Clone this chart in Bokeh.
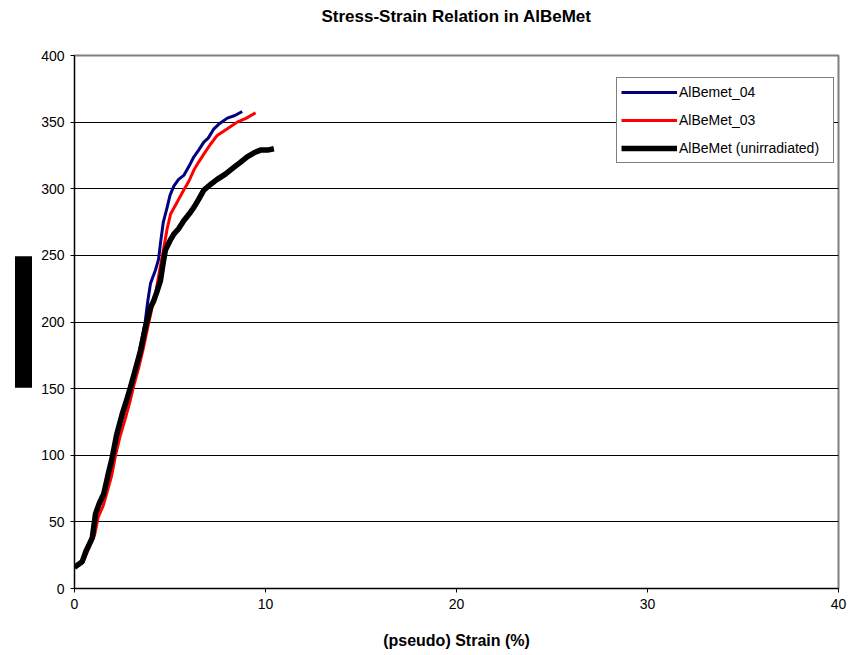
from bokeh.plotting import figure
from bokeh.models import Range1d, FixedTicker, Legend, LegendItem, Title
from bokeh.embed import file_html
from bokeh.resources import INLINE

FONT = "Liberation Sans"

# Stress-strain readings: strain (%) and stress (MPa)
strain_04 = [0.0, 0.4, 0.9, 1.1, 1.5, 1.95, 2.45, 2.9, 3.4, 3.7, 3.84, 3.98, 4.24, 4.4, 4.5,
             4.65, 4.85, 5.0, 5.2, 5.45, 5.72, 6.0, 6.25, 6.5, 6.77, 7.0, 7.3, 7.6, 8.0, 8.4, 8.78]
stress_04 = [16, 20, 38, 55, 70, 97, 130, 150, 178, 200, 216, 229, 239, 247, 259,
             275, 286, 295, 302, 307, 310, 317, 324, 329, 335, 338, 345, 349, 353, 355, 358]

strain_03 = [0.2, 0.5, 0.75, 1.05, 1.25, 1.5, 1.7, 1.95, 2.15, 2.4, 2.65, 2.9, 3.1, 3.35, 3.6,
             3.85, 4.05, 4.24, 4.45, 4.68, 4.85, 5.03, 5.3, 5.72, 6.0, 6.25, 6.5, 6.77, 7.1,
             7.47, 8.0, 8.52, 9.0, 9.48]
stress_03 = [18, 22, 30, 40, 54, 62, 72, 85, 100, 115, 127, 140, 152, 165, 180,
             197, 210, 221, 238, 256, 270, 281, 288, 299, 306, 314, 320, 326, 333,
             340, 345, 350, 353, 357]

strain_unirr = [0.0, 0.4, 0.6, 0.93, 1.1, 1.3, 1.53, 1.75, 1.97, 2.2, 2.5, 2.7, 2.93, 3.2, 3.45,
                3.7, 3.98, 4.15, 4.3, 4.5, 4.65, 4.76, 5.0, 5.2, 5.45, 5.72, 6.0, 6.25, 6.5,
                6.77, 7.1, 7.47, 7.9, 8.34, 8.7, 9.04, 9.4, 9.74, 10.1, 10.44]
stress_unirr = [16, 20, 28, 38, 56, 64, 71, 85, 98, 115, 131, 140, 151, 165, 178,
                195, 211, 216, 222, 231, 245, 254, 261, 266, 270, 276, 281, 286, 292,
                299, 303, 307, 311, 316, 320, 324, 327, 329, 329, 330]

x_ticks = [0, 10, 20, 30, 40]
y_ticks = [0, 50, 100, 150, 200, 250, 300, 350, 400]

p = figure(width=861, height=655, output_backend="svg", toolbar_location=None,
           x_range=Range1d(0, 40), y_range=Range1d(0, 400),
           min_border_left=74, min_border_right=23, min_border_top=55, min_border_bottom=67)

p.background_fill_color = "white"
p.border_fill_color = "white"
p.outline_line_color = "#7f7f7f"
p.outline_line_width = 2

# Gap between frame and title, then the title itself stacked above it
p.add_layout(Title(text="\u00a0", text_font_size="1px", standoff=19), "above")
p.add_layout(Title(text="Stress-Strain Relation in AlBeMet", align="center",
                   vertical_align="top", standoff=12,
                   text_font=FONT, text_font_size="17px", text_font_style="bold",
                   text_color="black"), "above")

p.xgrid.visible = False
p.ygrid.grid_line_color = "black"
p.ygrid.grid_line_width = 1
p.ygrid.ticker = FixedTicker(ticks=y_ticks)

for ax in (p.xaxis[0], p.yaxis[0]):
    ax.axis_line_color = "black"
    ax.axis_line_width = 1
    ax.major_tick_line_color = "black"
    ax.major_tick_in = 0
    ax.major_tick_out = 4
    ax.minor_tick_line_color = None
    ax.major_label_text_font = FONT
    ax.major_label_text_font_size = "14px"
    ax.major_label_text_color = "black"

p.xaxis[0].ticker = FixedTicker(ticks=x_ticks)
p.yaxis[0].ticker = FixedTicker(ticks=y_ticks)
p.xaxis[0].major_label_standoff = 6
p.yaxis[0].major_label_standoff = 6

p.xaxis[0].axis_label = "(pseudo) Strain (%)"
p.xaxis[0].axis_label_text_font = FONT
p.xaxis[0].axis_label_text_font_size = "16px"
p.xaxis[0].axis_label_text_font_style = "bold"
p.xaxis[0].axis_label_text_color = "black"
p.xaxis[0].axis_label_standoff = 20

r04 = p.line(strain_04, stress_04, line_color="#000080", line_width=3)
r03 = p.line(strain_03, stress_03, line_color="#ff0000", line_width=3)
run = p.line(strain_unirr, stress_unirr, line_color="black", line_width=5.5)

# Vertical stress label, blacked out; non-breaking spaces lengthen its box
pad = "\u00a0" * 7
p.add_layout(Title(text=pad + "Stress (MPa)" + pad, align="center",
                   text_font=FONT, text_font_size="13px", text_color="black",
                   background_fill_color="black", border_line_color=None,
                   standoff=13, padding=1), "left")

legend = Legend(items=[LegendItem(label="AlBemet_04", renderers=[r04]),
                       LegendItem(label="AlBeMet_03", renderers=[r03]),
                       LegendItem(label="AlBeMet (unirradiated)", renderers=[run])],
                location=(542, 425), orientation="vertical")
legend.border_line_color = "black"
legend.border_line_width = 1
legend.background_fill_color = "white"
legend.background_fill_alpha = 1
legend.padding = 4
legend.margin = 0
legend.spacing = 8
legend.glyph_width = 56
legend.glyph_height = 20
legend.label_height = 20
legend.label_width = 150
legend.label_standoff = 2
legend.label_text_font = FONT
legend.label_text_font_size = "14px"
legend.label_text_color = "black"
p.add_layout(legend)

open("out.html", "w").write(file_html(p, INLINE))
